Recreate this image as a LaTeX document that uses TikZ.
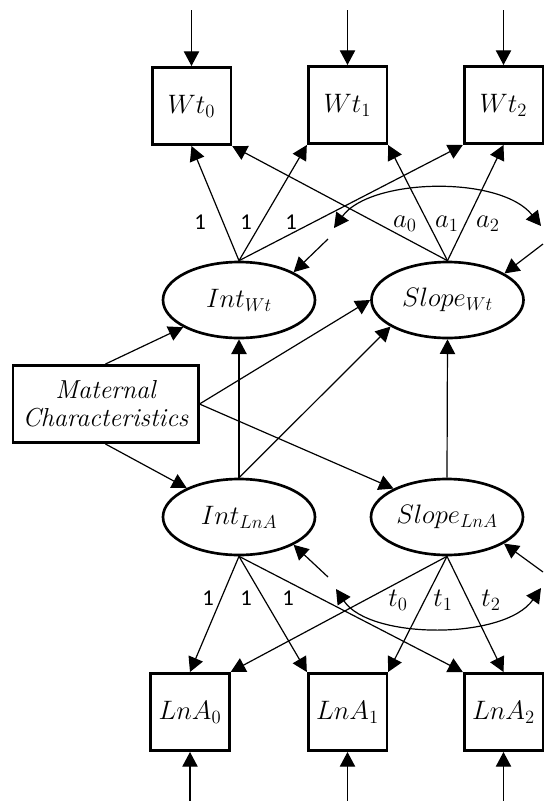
\RequirePackage{fix-cm}
\documentclass[tikz,border=0pt]{standalone}
\usepackage{fontspec}
\newfontfamily\labelfont{Carlito}
\usetikzlibrary{arrows.meta,shapes.geometric}
\begin{document}
\begin{tikzpicture}[x=0.75pt,y=-0.75pt,
  txt/.style={font=\fontsize{20}{24}\selectfont},
  obs/.style={txt,draw,line width=2pt,minimum width=59pt,minimum height=58pt,inner sep=0pt},
  lat/.style={txt,draw,ellipse,line width=2pt,minimum width=114pt,minimum height=57pt,inner sep=0pt},
  link/.style={line width=0.9pt,-{Triangle[length=11pt,width=11.5pt]}},
  both/.style={line width=0.9pt,{Triangle[length=11pt,width=11.5pt]}-{Triangle[length=11pt,width=11.5pt]}},
  load/.style={font=\labelfont\fontsize{17}{20}\selectfont,inner sep=0pt},
  coef/.style={txt,inner sep=0pt}
]
\useasboundingbox (0,0) rectangle (544,801);

% observed weights
\node[obs] (wt0) at (191.5,106) {$Wt_0$};
\node[obs] (wt1) at (347.5,105) {$Wt_1$};
\node[obs] (wt2) at (503.5,105) {$Wt_2$};

% growth factors
\node[lat] (iw) at (239,300) {$Int_{Wt}$};
\node[lat] (sw) at (447.5,300) {$Slope_{Wt}$};
\node[lat] (il) at (239,517) {$Int_{LnA}$};
\node[lat] (sl) at (447,517) {$Slope_{LnA}$};

% covariate
\node[obs,minimum width=139pt,align=center,font=\itshape\fontsize{19.5}{21}\selectfont] (mat) at (105.5,404) {Maternal\\Characteristics};

% observed LnA
\node[obs] (l0) at (190,712) {$LnA_0$};
\node[obs] (l1) at (347.5,712) {$LnA_1$};
\node[obs] (l2) at (503.5,712) {$LnA_2$};

% residual inputs
\coordinate (r0) at (191.5,10);
\coordinate (r1) at (347.5,10);
\coordinate (r2) at (503.5,10);
\coordinate (s0) at (190,801);
\coordinate (s1) at (347.5,801);
\coordinate (s2) at (503.5,801);
\foreach \a/\b in {r0/wt0,r1/wt1,r2/wt2,s0/l0,s1/l1,s2/l2}
  \draw[link] (\a) -- (\b);

% weight loadings
\draw[link] (iw.north) -- (wt0.south);
\draw[link] (iw.north) -- (wt1.south west);
\draw[link] (iw.north) -- (wt2.south west);
\draw[link] (sw.north) -- (wt0.south east);
\draw[link] (sw.north) -- (wt1.south east);
\draw[link] (sw.north) -- (wt2.south);

% LnA loadings
\draw[link] (il.south) -- (l0.north);
\draw[link] (il.south) -- (l1.north west);
\draw[link] (il.south) -- (l2.north west);
\draw[link] (sl.south) -- (l0.north east);
\draw[link] (sl.south) -- (l1.north east);
\draw[link] (sl.south) -- (l2.north);

% structural paths
\draw[link] (mat.north) -- (iw.206);
\draw[link] (mat.east) -- (sw.west);
\draw[link] (mat.east) -- (sl.152);
\draw[link] (mat.south) -- (il.151);
\draw[link] (il.north) -- (iw.south);
\draw[link] (il.north) -- (sw.205);
\draw[link] (sl.north) -- (sw.south);

% covariances
\coordinate (ca) at (334,228);
\coordinate (cb) at (541,226);
\coordinate (da) at (328,239);
\coordinate (db) at (543,244);
\draw[both] (ca) .. controls (370,178) and (500,175) .. (cb);
\draw[link] (da) -- (iw.27);
\draw[link] (db) -- (sw.25);

\coordinate (cc) at (336,589);
\coordinate (cd) at (541,588);
\coordinate (dc) at (328,577);
\coordinate (dd) at (543,572);
\draw[both] (cc) .. controls (370,640) and (505,640) .. (cd);
\draw[link] (dc) -- (il.-27);
\draw[link] (dd) -- (sl.-25);

% loading labels
\node[load] (u1) at (200,222) {1};
\node[load] (u2) at (246,222) {1};
\node[load] (u3) at (291,222) {1};
\node[coef] (a0) at (405,224) {$a_0$};
\node[coef] (a1) at (447,224) {$a_1$};
\node[coef] (a2) at (488,224) {$a_2$};
\node[load] (v1) at (208,598) {1};
\node[load] (v2) at (246,598) {1};
\node[load] (v3) at (288,598) {1};
\node[coef] (t0) at (398,600) {$t_0$};
\node[coef] (t1) at (443,600) {$t_1$};
\node[coef] (t2) at (491,600) {$t_2$};
\end{tikzpicture}
\end{document}
